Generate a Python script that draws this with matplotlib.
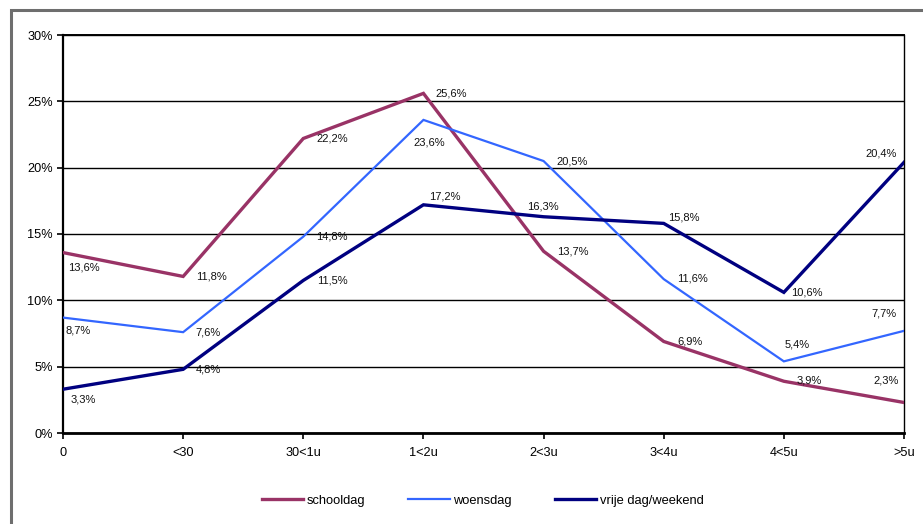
import matplotlib.pyplot as plt
from matplotlib.patches import Rectangle

plt.rcParams['font.family'] = ['Liberation Sans', 'DejaVu Sans']

# categories and series (percentages)
categories = ['0', '<30', '30<1u', '1<2u', '2<3u', '3<4u', '4<5u', '>5u']
schooldag = [13.6, 11.8, 22.2, 25.6, 13.7, 6.9, 3.9, 2.3]
woensdag = [8.7, 7.6, 14.8, 23.6, 20.5, 11.6, 5.4, 7.7]
vrije_dag = [3.3, 4.8, 11.5, 17.2, 16.3, 15.8, 10.6, 20.4]

# label offsets in pixels (dx right, dy down) relative to each point
off_school = [(21, 15), (28, 0), (29, 0), (28, 0), (29, 0), (26, 0), (25, -1), (-18, -22)]
off_woens = [(15, 13), (25, 0), (29, 0), (6, 23), (29, 0), (29, -1), (13, -17), (-20, -17)]
off_vrije = [(20, 10), (25, 0), (29, 0), (21, -8), (-1, -10), (20, -6), (23, 0), (-23, -9)]

fig = plt.figure(figsize=(9.23, 5.24), dpi=100)
ax = fig.add_axes([63 / 923, 1 - 433 / 524, (904 - 63) / 923, (433 - 35) / 524])

x = list(range(len(categories)))
series = [
    ('schooldag', schooldag, '#993366', 2.4, off_school),
    ('woensdag', woensdag, '#3366FF', 1.6, off_woens),
    ('vrije dag/weekend', vrije_dag, '#000080', 2.4, off_vrije),
]
for name, vals, col, lw, offs in series:
    ax.plot(x, vals, color=col, lw=lw, label=name, zorder=3, solid_joinstyle='miter')
    for xi, v, (dx, dy) in zip(x, vals, offs):
        lab = f"{v:.1f}".replace('.', ',') + '%'
        ax.annotate(lab, (xi, v), xytext=(dx, -dy), textcoords='offset pixels',
                    ha='center', va='center', fontsize=8, color='#111111', zorder=4)

ax.set_xlim(0, 7)
ax.set_ylim(0, 30)
ax.set_xticks(x)
ax.set_xticklabels(categories)
ax.set_yticks(range(0, 31, 5))
ax.set_yticklabels([f"{t}%" for t in range(0, 31, 5)])
ax.tick_params(axis='both', labelsize=9.2, colors='black', length=4, width=1.2, direction='out')
ax.tick_params(axis='x', pad=6)
ax.yaxis.grid(True, color='black', lw=1.0)
ax.set_axisbelow(True)
for s in ax.spines.values():
    s.set_color('black')
ax.spines['left'].set_linewidth(1.6)
ax.spines['bottom'].set_linewidth(2.0)
ax.spines['top'].set_linewidth(1.4)
ax.spines['right'].set_linewidth(1.0)

fig.legend(loc='center', bbox_to_anchor=(0.523, 0.044), ncol=3, frameon=False,
           fontsize=9.3, handlelength=3.2, handletextpad=0.3, columnspacing=3.3)

# gray outer frame
fig.patches.append(Rectangle((10.5 / 923, -0.1), 1.2, 1.1 - 9.5 / 524,
                             transform=fig.transFigure, fill=False,
                             edgecolor='#6e6e6e', lw=2.2))

fig.savefig('out.png', dpi=100)
